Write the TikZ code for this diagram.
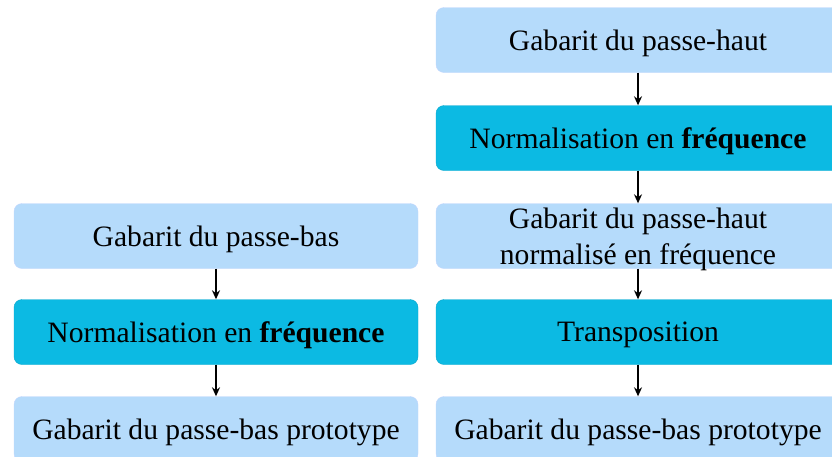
\documentclass[tikz,border=0pt]{standalone}
\usepackage{fontspec}
\setmainfont{Liberation Serif}
\usetikzlibrary{arrows.meta}
\definecolor{lightblue}{RGB}{181,219,251}
\definecolor{darkblue}{RGB}{12,186,227}

\begin{document}
\begin{tikzpicture}[x=1pt, y=-1pt,
    lightbox/.style={rectangle, rounded corners=8pt, draw=lightblue!85!blue!60, fill=lightblue,
        minimum width=404pt, minimum height=65pt, inner ysep=0pt, align=center,
        text depth=0pt, font=\fontsize{29.6}{35.5}\selectfont},
    darkbox/.style={lightbox, draw=darkblue!90!black, fill=darkblue},
    edge/.style={line width=1.6pt, -{Stealth[length=9pt, width=8pt]}}
]
    \useasboundingbox (0,0) rectangle (832,456);
    \clip (0,0) rectangle (832,456);
    % left column
    \node[lightbox] (pb) at (216,236) {Gabarit du passe-bas};
    \node[darkbox] (nb) at (216,332) {Normalisation en \textbf{fréquence}};
    \node[lightbox] (pbp) at (216,429) {Gabarit du passe-bas prototype};
    % right column
    \node[lightbox] (ph) at (638,40) {Gabarit du passe-haut};
    \node[darkbox] (nh) at (638,138) {Normalisation en \textbf{fréquence}};
    \node[lightbox] (phn) at (638,236) {Gabarit du passe-haut\\ normalisé en fréquence};
    \node[darkbox] (tr) at (638,332) {Transposition};
    \node[lightbox] (php) at (638,429) {Gabarit du passe-bas prototype};
    \draw[edge] (pb) -- (nb);
    \draw[edge] (nb) -- (pbp);
    \draw[edge] (ph) -- (nh);
    \draw[edge] (nh) -- (phn);
    \draw[edge] (phn) -- (tr);
    \draw[edge] (tr) -- (php);
\end{tikzpicture}
\end{document}
